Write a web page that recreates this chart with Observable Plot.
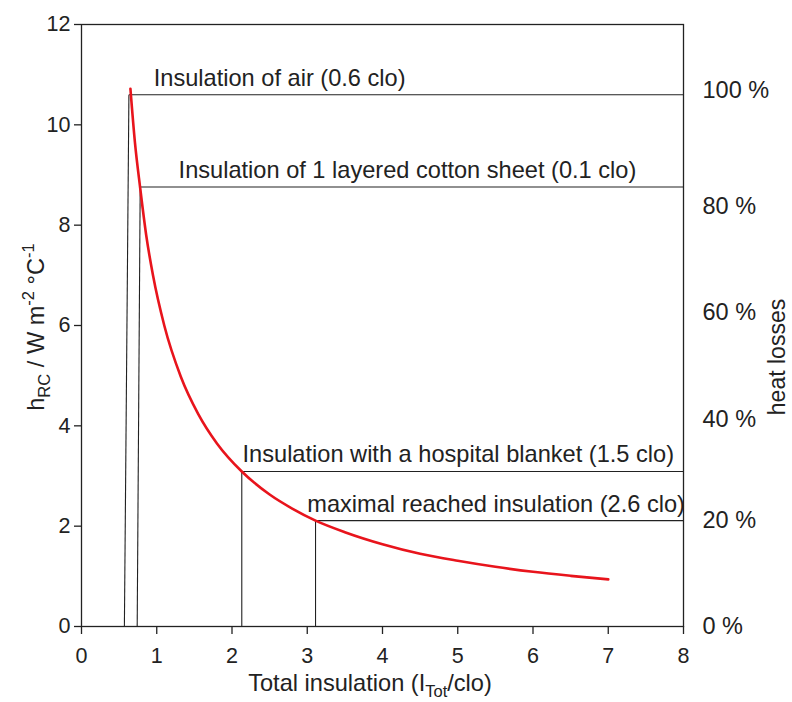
<!DOCTYPE html>
<html><head><meta charset="utf-8">
<script src="https://cdn.jsdelivr.net/npm/d3@7"></script>
<script src="https://cdn.jsdelivr.net/npm/@observablehq/plot@0.6"></script>
<style>body{margin:0;background:#fff}</style>
</head><body><div id="chart"></div>
<script>
// ---- data ----
const xTicks = [0, 1, 2, 3, 4, 5, 6, 7, 8];
const yTicks = [0, 2, 4, 6, 8, 10, 12];
const curveX = [0.65, 0.71, 0.78, 0.86, 0.95, 1.1, 1.32, 1.55, 1.8, 2.13, 2.5, 2.8, 3.11, 3.5, 4.0, 4.5, 5.0, 5.5, 6.0, 6.5, 7.0];
const curveH = [10.72, 9.65, 8.74, 7.8, 7.0, 6.0, 4.98, 4.24, 3.65, 3.09, 2.63, 2.35, 2.11, 1.88, 1.64, 1.45, 1.31, 1.19, 1.09, 1.01, 0.94];
const levelNames = ["Insulation of air (0.6 clo)", "Insulation of 1 layered cotton sheet (0.1 clo)", "Insulation with a hospital blanket (1.5 clo)", "maximal reached insulation (2.6 clo)"];
const levelBaseX = [0.57, 0.74, 2.13, 3.11];
const levelTopX = [0.63, 0.78, 2.13, 3.11];
const levelH = [10.6, 8.76, 3.09, 2.11];
const levelLabelX = [0.96, 1.29, 2.14, 3.0];
const pctLabels = ["0 %", "20 %", "40 %", "60 %", "80 %", "100 %"];
const pctH = [0, 2.12, 4.12, 6.25, 8.37, 10.68];
const xMax = 8;

const curve = curveX.map((x, i) => ({x, h: curveH[i]}));
const levels = levelNames.map((name, i) => ({name, bx: levelBaseX[i], tx: levelTopX[i], h: levelH[i], lx: levelLabelX[i], end: xMax}));
const pct = pctLabels.map((label, i) => ({label, h: pctH[i], x: xMax}));

const ink = "#222";
const fam = "'Liberation Sans', Arial, sans-serif";
const chart = Plot.plot({
  width: 792, height: 702,
  marginLeft: 81, marginRight: 109, marginTop: 24, marginBottom: 76,
  style: {fontFamily: fam, fontSize: "21px", color: ink, background: "#fff"},
  x: {domain: [0, 8]},
  y: {domain: [0, 12]},
  marks: [
    Plot.frame({stroke: ink, strokeWidth: 1.3}),
    Plot.axisX({ticks: xTicks, tickSize: 8, tickPadding: 13, fontSize: 21.5, label: null, tickFormat: d => String(d), strokeWidth: 1.3}),
    Plot.axisY({ticks: yTicks, tickSize: 7, tickPadding: 4, fontSize: 21.5, label: null, tickFormat: d => String(d), strokeWidth: 1.3}),
    Plot.link(levels, {x1: "bx", y1: () => 0, x2: "tx", y2: "h", stroke: ink, strokeWidth: 1.1}),
    Plot.link(levels, {x1: "tx", y1: "h", x2: "end", y2: "h", stroke: ink, strokeWidth: 1.1}),
    Plot.line(curve, {x: "x", y: "h", stroke: "#e8141c", strokeWidth: 2.6, curve: "monotone-x"}),
    Plot.text(levels, {x: "lx", y: "h", text: "name", textAnchor: "start", lineAnchor: "bottom", dy: -9, fontSize: 23.6, fill: ink}),
    Plot.text(pct, {x: "x", y: "h", text: "label", textAnchor: "start", lineAnchor: "middle", dx: 19, fontSize: 23.5, fill: ink})
  ]
});
document.getElementById("chart").appendChild(chart);

// axis titles with sub/superscripts
const svg = d3.select(chart);
const xl = svg.append("text").attr("transform", "translate(370,691)").attr("text-anchor", "middle")
  .attr("font-size", 23.6).attr("font-family", fam).attr("fill", ink);
xl.append("tspan").text("Total insulation (I");
xl.append("tspan").attr("dy", 6).attr("font-size", 16.5).text("Tot");
xl.append("tspan").attr("dy", -6).text("/clo)");

const yl = svg.append("text").attr("transform", "translate(44,327) rotate(-90)").attr("text-anchor", "middle")
  .attr("font-size", 23.6).attr("font-family", fam).attr("fill", ink);
yl.append("tspan").text("h");
yl.append("tspan").attr("dy", 6).attr("font-size", 16.5).text("RC");
yl.append("tspan").attr("dy", -6).text(" / W m");
yl.append("tspan").attr("dy", -10).attr("font-size", 16.5).text("-2");
yl.append("tspan").attr("dy", 10).text(" °C");
yl.append("tspan").attr("dy", -10).attr("font-size", 16.5).text("-1");

svg.append("text").attr("transform", "translate(785,357) rotate(-90)").attr("text-anchor", "middle")
  .attr("font-size", 23).attr("font-family", fam).attr("fill", ink).text("heat losses");
</script>
</body></html>
